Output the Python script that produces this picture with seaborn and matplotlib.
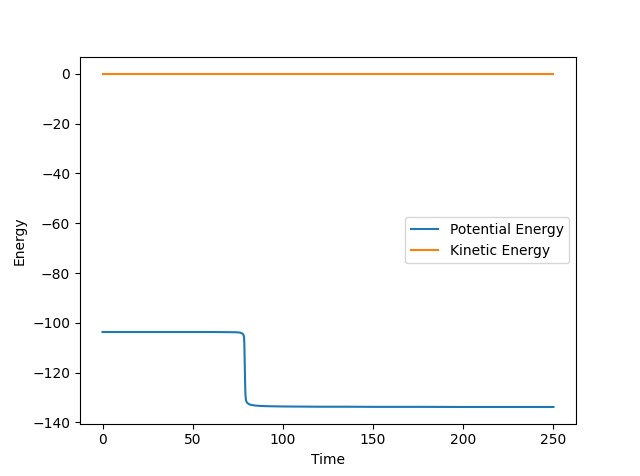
import numpy as np
import pandas as pd
import matplotlib
matplotlib.use("Agg")
import matplotlib.pyplot as plt
import seaborn as sns

time = [0, 10, 20, 30, 40, 50, 60, 70, 74, 76, 77, 78, 78.4, 78.6, 78.8, 79.0, 79.2, 79.5,
        80, 81, 82, 83.5, 85, 88, 92, 96, 100, 110, 120, 135, 150, 175, 200, 225, 250]
potential = [-103.7, -103.7, -103.7, -103.7, -103.7, -103.7, -103.7, -103.75, -103.8, -103.9,
             -104.1, -104.6, -105.5, -108.0, -115.0, -123.0, -128.5, -131.0,
             -132.0, -132.6, -132.9, -133.1, -133.25, -133.4, -133.5, -133.55, -133.6, -133.65,
             -133.7, -133.7, -133.75, -133.75, -133.8, -133.8, -133.8]
kinetic = [0.0] * len(time)

df = pd.DataFrame({"Time": time, "Potential Energy": potential, "Kinetic Energy": kinetic})

fig, ax = plt.subplots(figsize=(6.4, 4.76), dpi=100)
sns.lineplot(data=df, x="Time", y="Potential Energy", ax=ax, label="Potential Energy")
sns.lineplot(data=df, x="Time", y="Kinetic Energy", ax=ax, label="Kinetic Energy")
ax.set_xlabel("Time")
ax.set_ylabel("Energy")
ax.legend(loc="center right")

plt.savefig("out.png")
